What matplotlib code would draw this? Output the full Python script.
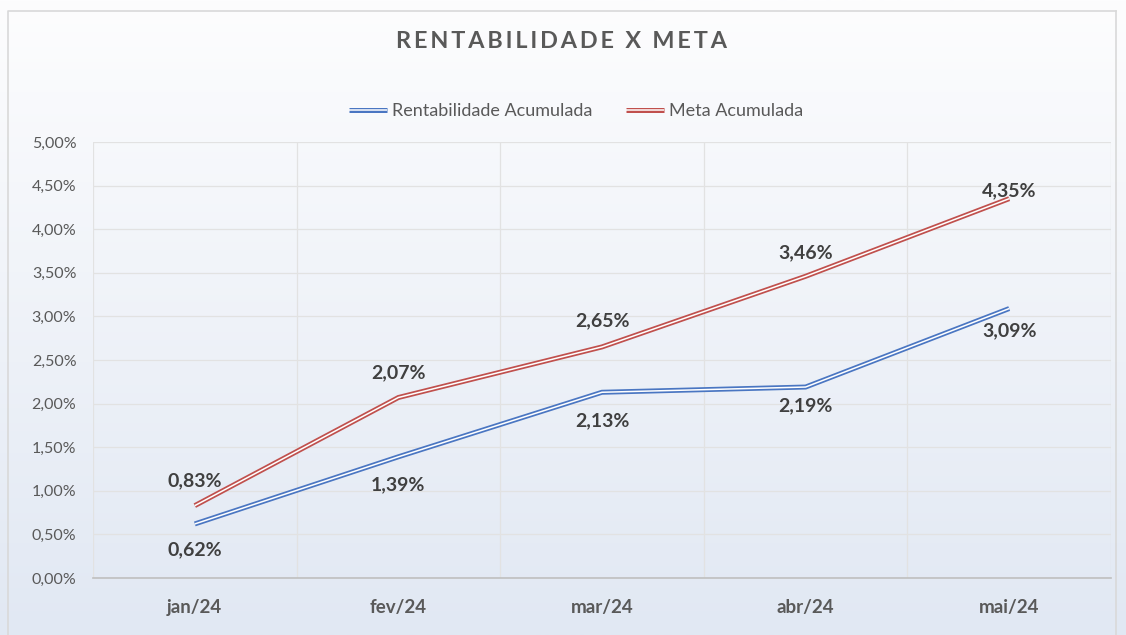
import numpy as np
import matplotlib
matplotlib.use("Agg")
import matplotlib.pyplot as plt
from matplotlib.lines import Line2D
from matplotlib.legend_handler import HandlerBase
from matplotlib.ticker import FuncFormatter, MultipleLocator

plt.rcParams['font.family'] = ['Lato', 'DejaVu Sans']

categories = ["jan/24", "fev/24", "mar/24", "abr/24", "mai/24"]
rentabilidade = [0.62, 1.39, 2.13, 2.19, 3.09]
meta = [0.83, 2.07, 2.65, 3.46, 4.35]
series_names = ["Rentabilidade Acumulada", "Meta Acumulada"]
title = "RENTABILIDADE X META"

BLUE = "#4a76c2"
RED = "#c0504d"
TXT = "#595959"
LBL = "#404040"
OUTER_LW = 3.6
INNER_LW = 1.1

W, H, DPI = 1126, 635, 100
fig = plt.figure(figsize=(W / DPI, H / DPI), dpi=DPI)

# background gradient
bg = fig.add_axes([0, 0, 1, 1], zorder=-10)
top_c = np.array(matplotlib.colors.to_rgb("#fdfdfe"))
bot_c = np.array(matplotlib.colors.to_rgb("#e1e8f3"))
t = np.linspace(0, 1, 256)[:, None]
grad = (top_c[None, :] * (1 - t) + bot_c[None, :] * t)[:, None, :]
bg.imshow(grad, aspect='auto', extent=[0, 1, 0, 1], origin='upper')
bg.set_xlim(0, 1); bg.set_ylim(0, 1)
bg.axis('off')
bg.plot([8 / W, 8 / W, 1116 / W], [0, 1 - 11 / H, 1 - 11 / H], color="#d9d9d9", lw=1.2)
bg.plot([1116 / W, 1116 / W], [1 - 11 / H, 0], color="#d9d9d9", lw=1.2)

ax = fig.add_axes([93 / W, 1 - 578 / H, (1111 - 93) / W, (578 - 142) / H])
ax.set_facecolor("none")
x = np.arange(len(categories))
ax.set_xlim(-0.5, len(categories) - 0.5)
ax.set_ylim(0, 5)

ax.yaxis.set_major_locator(MultipleLocator(0.5))
ax.yaxis.set_major_formatter(FuncFormatter(lambda v, p: f"{v:.2f}%".replace(".", ",")))
ax.set_xticks(x)
ax.set_xticklabels(categories, fontsize=13.5, fontweight='bold', color=TXT)
ax.set_xticks(np.arange(-0.5, len(categories)), minor=True)
ax.tick_params(axis='x', which='both', length=0, pad=15)
ax.tick_params(axis='y', length=0, labelsize=11.5, labelcolor=TXT, pad=12)
ax.grid(True, axis='y', which='major', color="#e2e2e2", lw=0.9)
ax.grid(True, axis='x', which='minor', color="#e2e2e2", lw=0.9)
ax.grid(False, axis='x', which='major')
for s in ["top", "right", "left"]:
    ax.spines[s].set_visible(False)
ax.spines["bottom"].set_color("#bfbfbf")
ax.spines["bottom"].set_linewidth(1.2)
ax.set_axisbelow(True)

def double_line(xs, ys, color):
    ax.plot(xs, ys, color=color, lw=OUTER_LW, solid_capstyle='butt', solid_joinstyle='miter', zorder=3)
    ax.plot(xs, ys, color="white", lw=INNER_LW, solid_capstyle='butt', solid_joinstyle='miter', zorder=4)

double_line(x, rentabilidade, BLUE)
double_line(x, meta, RED)

fmt = lambda v: f"{v:.2f}%".replace(".", ",")
r_off = [-26, -28, -28, -19, -22]
m_off = [25, 25, 26, 24, 8]
for xi, v, o in zip(x, rentabilidade, r_off):
    ax.annotate(fmt(v), (xi, v), xytext=(0, o * 0.72), textcoords='offset points',
                ha='center', va='center', fontsize=14, fontweight='bold', color=LBL, zorder=5)
for xi, v, o in zip(x, meta, m_off):
    ax.annotate(fmt(v), (xi, v), xytext=(0, o * 0.72), textcoords='offset points',
                ha='center', va='center', fontsize=14, fontweight='bold', color=LBL, zorder=5)

fig.text(562 / W, 1 - 42 / H, "\u2009".join(title),
         ha='center', va='center', fontsize=16.8, fontweight='bold', color=TXT)


class DoubleLineHandler(HandlerBase):
    def create_artists(self, legend, orig_handle, xdescent, ydescent, width, height, fontsize, trans):
        y = height / 2 - ydescent
        a = Line2D([-xdescent, width - xdescent], [y, y], color=orig_handle.get_color(),
                   lw=OUTER_LW, solid_capstyle='butt', transform=trans)
        b = Line2D([-xdescent, width - xdescent], [y, y], color="white",
                   lw=INNER_LW, solid_capstyle='butt', transform=trans)
        return [a, b]

h1 = Line2D([], [], color=BLUE)
h2 = Line2D([], [], color=RED)
leg = fig.legend([h1, h2], series_names, loc='center',
                 bbox_to_anchor=(576 / W, 1 - 111 / H), ncol=2, frameon=False,
                 handler_map={Line2D: DoubleLineHandler()},
                 fontsize=13, handlelength=2.1, handletextpad=0.25, columnspacing=1.9)
for txt in leg.get_texts():
    txt.set_color(TXT)

fig.savefig("out.png", dpi=DPI)
